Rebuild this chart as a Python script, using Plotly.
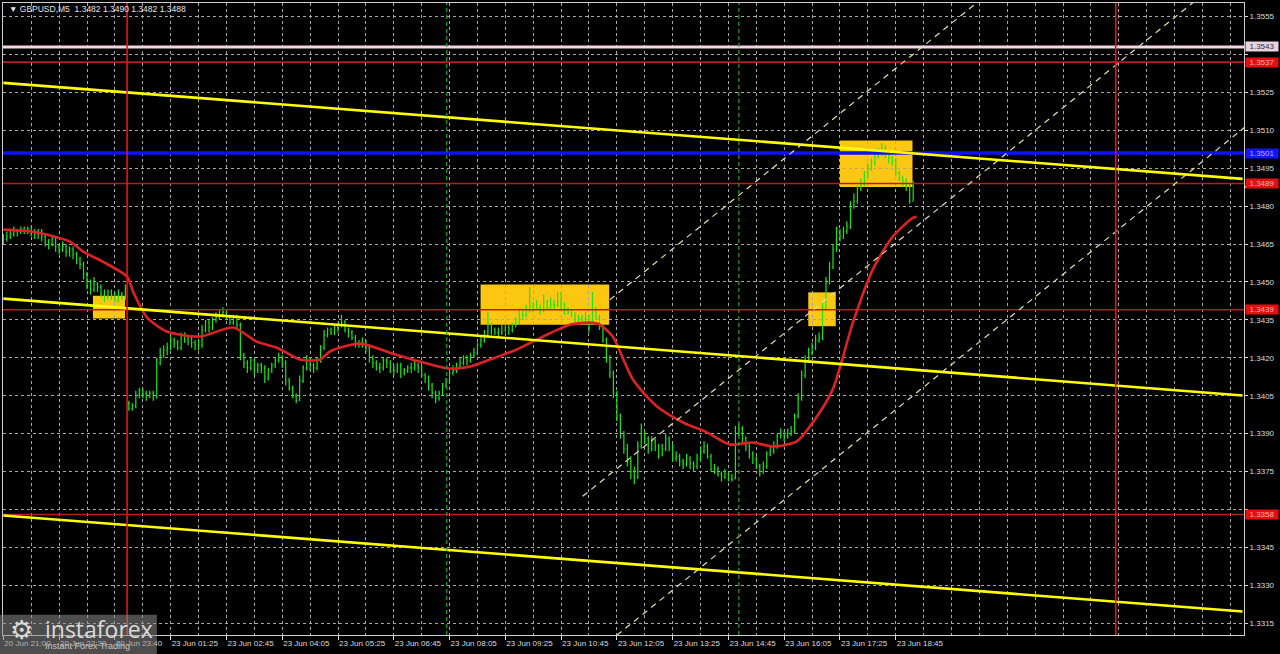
import plotly.graph_objects as go

# ---------------- data (prices stored as pips above BASE) ----------------
BASE = 1.3300
PIP = 0.0001

open_pips = [
    166,167,168,169,170,170,171,170,171,170,
    169,170,168,166,165,167,164,163,164,162,
    163,161,159,157,153,150,147,149,148,145,
    144,146,145,143,145,144,
    102,100,101,105,107,106,105,106,104,118,
    121,123,124,127,126,124,129,127,128,126,
    125,125,131,134,132,135,136,137,138,136,
    134,136,133,121,118,116,119,115,117,116,
    112,115,117,119,120,118,111,108,105,103,
    111,116,119,117,116,119,124,129,131,130,
    132,133,134,131,130,128,126,125,126,124,
    120,118,116,116,119,118,116,115,117,114,
    115,116,116,117,116,113,112,109,106,104,
    106,109,111,114,115,117,118,120,119,121,
    122,125,127,129,133,131,130,130,131,132,
    131,133,134,137,137,139,140,141,140,139,
    142,140,141,141,142,141,139,138,137,136,
    136,135,136,134,139,136,132,127,120,114,
    106,97,90,84,79,75,73,85,90,88,
    84,87,85,82,84,88,85,80,81,79,
    78,80,78,77,80,83,85,81,76,76,
    74,73,74,72,72,90,92,88,85,82,
    80,77,75,77,82,83,85,89,90,89,
    90,91,97,104,113,119,122,124,127,128,
    140,150,156,163,170,168,170,172,180,182,
    187,189,192,195,197,200,201,202,201,199,
    198,193,191,190,188,182,
]
high_pips = [
    169,170,171,172,171,172,172,172,172,171,
    171,171,169,167,168,168,165,166,165,164,
    164,162,160,158,154,151,152,150,149,147,
    147,147,146,147,146,149,
    103,102,107,108,108,107,107,107,120,124,
    125,126,129,128,127,130,130,129,129,127,
    127,133,135,135,136,138,139,140,139,137,
    137,137,134,122,119,120,120,118,118,117,
    116,118,120,122,121,119,112,109,106,113,
    117,121,120,118,120,125,131,132,132,133,
    134,137,135,132,131,129,127,128,127,125,
    121,119,118,120,120,119,117,118,118,116,
    117,118,119,118,117,114,113,110,107,107,
    110,112,115,117,118,120,121,121,122,124,
    126,129,131,138,134,132,132,133,133,133,
    134,136,139,139,141,148,142,143,141,145,
    143,144,143,146,146,142,140,139,138,137,
    137,138,137,146,140,137,133,128,121,115,
    107,98,91,86,81,77,87,94,91,89,
    89,88,86,86,90,89,86,83,82,80,
    82,81,79,82,85,87,86,82,78,77,
    75,76,75,74,93,94,93,89,86,83,
    81,78,79,83,85,87,90,92,91,92,
    93,98,106,115,121,124,126,129,130,142,
    152,158,165,172,171,172,174,182,185,188,
    191,194,197,199,202,203,205,204,202,200,
    199,194,192,191,189,190,
]
low_pips = [
    165,166,167,168,168,169,169,169,168,167,
    167,166,164,163,164,162,161,162,160,160,
    159,157,155,151,147,145,146,146,144,142,
    143,143,142,142,143,143,
    99,99,100,104,104,103,104,103,104,117,
    120,121,123,124,123,123,126,125,124,123,
    123,124,130,130,131,134,135,136,135,133,
    133,131,119,116,114,115,113,114,114,110,
    111,114,116,118,116,109,107,104,102,103,
    110,115,115,114,115,118,123,128,129,129,
    130,132,130,128,127,124,124,124,122,118,
    116,115,114,115,116,114,113,114,112,113,
    114,114,115,114,112,110,107,104,102,103,
    105,108,110,113,114,116,117,117,118,120,
    121,124,126,128,129,129,128,129,130,129,
    130,132,133,135,136,138,138,139,137,138,
    139,139,139,140,139,137,137,136,134,134,
    133,134,130,133,135,131,126,118,112,104,
    95,88,82,77,72,70,72,84,86,82,
    83,83,80,81,83,83,79,79,77,76,
    77,76,75,76,79,82,80,75,74,73,
    71,72,71,71,72,89,86,83,80,78,
    76,73,74,76,81,82,84,88,87,88,
    89,90,96,103,112,118,121,123,126,127,
    139,149,155,162,166,167,169,171,179,181,
    186,188,191,194,196,199,200,199,197,196,
    192,190,188,186,181,182,
]
close_pips = [
    167,168,169,170,170,171,170,171,170,169,
    170,168,166,165,167,164,163,164,162,163,
    161,159,157,153,150,147,149,148,145,144,
    146,145,143,145,144,147,
    100,101,105,107,106,105,106,104,118,121,
    123,124,127,126,124,129,127,128,126,125,
    125,131,134,132,135,136,137,138,136,134,
    136,133,121,118,116,119,115,117,116,112,
    115,117,119,120,118,111,108,105,103,111,
    116,119,117,116,119,124,129,131,130,132,
    133,134,131,130,128,126,125,126,124,120,
    118,116,116,119,118,116,115,117,114,115,
    116,116,117,116,113,112,109,106,104,106,
    109,111,114,115,117,118,120,119,121,122,
    125,127,129,133,131,130,130,131,132,131,
    133,134,137,137,139,140,141,140,139,142,
    140,141,141,142,141,139,138,137,136,136,
    135,136,134,139,136,132,127,120,114,106,
    97,90,84,79,75,73,85,90,88,84,
    87,85,82,84,88,85,80,81,79,78,
    80,78,77,80,83,85,81,76,76,74,
    73,74,72,72,90,92,88,85,82,80,
    77,75,77,82,83,85,89,90,89,90,
    91,97,104,113,119,122,124,127,128,140,
    150,156,163,170,168,170,172,180,182,187,
    189,192,195,197,200,201,202,201,199,198,
    193,191,190,188,182,188,
]

# moving average read at points along the red curve (bar index, pips)
ma_bar = [0, 8.5, 19.1, 22.9, 28.3, 35.5, 37.2, 41.2, 46.9, 56.4,
          65.9, 72.7, 78.5, 85.1, 90.8, 93.7, 102.3, 110.9, 119.5, 128.1,
          133.8, 139.6, 147.3, 154.8, 162.5, 168.3, 171.1, 174.8, 180.6, 187.5,
          195, 201.8, 208.4, 215, 220.7, 227.6, 232.2, 237.9, 243.7, 249.4,
          255.1, 260.9, 262]
ma_pips = [170.7, 169.9, 166, 162, 158.2, 152.1, 146.2, 136, 130.4, 128.4,
           132, 126.4, 124, 119.3, 119.3, 122.5, 125.6, 122, 118.5, 115.7,
           116.5, 119.3, 123.3, 128.4, 133.1, 133.9, 133.1, 128.4, 111.4, 100.7,
           94.4, 90.5, 85.7, 86.5, 84.9, 86.9, 94.4, 107.4, 133.9, 154.9,
           167.9, 175.4, 175.8]

tick_bars = [0, 16, 32, 48, 64, 80, 96, 112, 128, 144, 160, 176, 192, 208, 224, 240, 256]
tick_labels = ["20 Jun 21:00", "20 Jun 22:20", "20 Jun 23:40", "23 Jun 01:25", "23 Jun 02:45",
               "23 Jun 04:05", "23 Jun 05:25", "23 Jun 06:45", "23 Jun 08:05", "23 Jun 09:25",
               "23 Jun 10:45", "23 Jun 12:05", "23 Jun 13:25", "23 Jun 14:45", "23 Jun 16:05",
               "23 Jun 17:25", "23 Jun 18:45"]

price_ticks = [1.3315, 1.3330, 1.3345, 1.3360, 1.3375, 1.3390, 1.3405, 1.3420, 1.3435,
               1.3450, 1.3465, 1.3480, 1.3495, 1.3510, 1.3525, 1.3540, 1.3555]
hidden_price_ticks = [1.3360, 1.3540]   # covered by level labels in the reference

red_levels = [1.3537, 1.3489, 1.3439, 1.3358]
blue_level = 1.3501
pink_level = 1.3543
bid_price = 1.3488

# solid yellow channel lines: (bar_start, bar_end), (price_start, price_end)
trend_bars = [(0, 355.5), (0, 355.5), (0, 355.5)]
trend_prices = [(1.35288, 1.34908), (1.34434, 1.34051), (1.33576, 1.33196)]

# dashed ascending channel lines
dash_bars = [(174, 290), (166.2, 356), (176, 356)]
dash_prices = [(1.3443, 1.35725), (1.33652, 1.3577), (1.33102, 1.35111)]

# highlighted signal zones
box_bars = [(25.7, 34.9), (136.9, 173.8), (230.9, 238.8), (240.0, 260.8)]
box_prices = [(1.34355, 1.34446), (1.34331, 1.34490), (1.34325, 1.34459), (1.34876, 1.35060)]

red_vlines = [35.5, 319.1]
green_vlines = [127.2, 211.0]

x_range = [-0.1, 355.9]
y_range = [1.33103, 1.35604]

title_text = "▼ GBPUSD,M5  1.3482 1.3490 1.3482 1.3488"

# ---------------- figure ----------------
def px(v):
    return [BASE + p * PIP for p in v]

bars = list(range(len(close_pips)))
GREEN = "#19e619"
FONT = "Liberation Sans"
TXT = "#dcdcdc"

fig = go.Figure()

for lv in red_levels:
    fig.add_trace(go.Scatter(x=x_range, y=[lv, lv], mode="lines",
                             line=dict(color="#b81c1c", width=1.6), hoverinfo="skip"))
fig.add_trace(go.Scatter(x=x_range, y=[pink_level, pink_level], mode="lines",
                         line=dict(color="#f2d4e4", width=3), hoverinfo="skip"))

fig.add_trace(go.Ohlc(x=bars, open=px(open_pips), high=px(high_pips), low=px(low_pips),
                      close=px(close_pips), tickwidth=0.25,
                      increasing=dict(line=dict(color=GREEN, width=1.2)),
                      decreasing=dict(line=dict(color=GREEN, width=1.2)),
                      hoverinfo="skip"))

fig.add_trace(go.Scatter(x=x_range, y=[blue_level, blue_level], mode="lines",
                         line=dict(color="#1010ff", width=3.5), hoverinfo="skip"))

fig.add_trace(go.Scatter(x=ma_bar, y=px(ma_pips), mode="lines",
                         line=dict(color="#dc2222", width=2.6, shape="spline", smoothing=0.7),
                         hoverinfo="skip"))

for (b0, b1), (p0, p1) in zip(trend_bars, trend_prices):
    fig.add_trace(go.Scatter(x=[b0, b1], y=[p0, p1], mode="lines",
                             line=dict(color="#ffff00", width=2.6), hoverinfo="skip"))
for (b0, b1), (p0, p1) in zip(dash_bars, dash_prices):
    fig.add_trace(go.Scatter(x=[b0, b1], y=[p0, p1], mode="lines",
                             line=dict(color="#e4e0a8", width=1.2, dash="6px,5px"), hoverinfo="skip"))

for vb in red_vlines:
    fig.add_trace(go.Scatter(x=[vb, vb], y=y_range, mode="lines",
                             line=dict(color="#e81414", width=1.6), hoverinfo="skip"))
for vb in green_vlines:
    fig.add_trace(go.Scatter(x=[vb, vb], y=y_range, mode="lines",
                             line=dict(color="#2aa02a", width=1.2, dash="4px,3px"), hoverinfo="skip"))

shapes = []
for (b0, b1), (p0, p1) in zip(box_bars, box_prices):
    shapes.append(dict(type="rect", xref="x", yref="y", x0=b0, x1=b1, y0=p0, y1=p1,
                       fillcolor="#fbc712", line=dict(width=0), layer="below"))

# white bid-price strip just under the 1.3489 label
shapes.append(dict(type="line", xref="paper", yref="y", x0=1.0, x1=1.0275,
                   y0=bid_price - 0.00003, y1=bid_price - 0.00003,
                   line=dict(color="#f4f4f4", width=2), layer="above"))

# watermark
shapes.append(dict(type="rect", xref="paper", yref="paper", x0=-0.003, x1=0.124,
                   y0=-0.032, y1=0.032, fillcolor="rgba(140,140,140,0.55)",
                   line=dict(width=0), layer="above"))

annotations = []
annotations.append(dict(text=title_text, xref="paper", yref="paper", x=0.003, y=1,
                        yshift=-6, xanchor="left", yanchor="middle", showarrow=False,
                        font=dict(family=FONT, size=8.5, color="#e6e6e6")))

def price_label(y, text, bg, fg):
    return dict(text=text, xref="paper", yref="y", x=1, y=y, xanchor="left",
                yanchor="middle", xshift=1, showarrow=False, bgcolor=bg,
                width=32, height=9, borderpad=0, align="center",
                font=dict(family=FONT, size=8, color=fg))

annotations.append(price_label(pink_level, f"{pink_level:.4f}", "#e6d2e2", "#303030"))
for lv in red_levels:
    annotations.append(price_label(lv, f"{lv:.4f}", "#e41010", "#f4b0b0"))
annotations.append(price_label(blue_level, f"{blue_level:.4f}", "#1414ff", "#b0b0ff"))

annotations.append(dict(text="⚙", xref="paper", yref="paper", x=0.004, y=0.008,
                        xanchor="left", yanchor="middle", showarrow=False,
                        font=dict(family="DejaVu Sans", size=26, color="#dadada")))
annotations.append(dict(text="instaforex", xref="paper", yref="paper", x=0.032, y=0.010,
                        xanchor="left", yanchor="middle", showarrow=False,
                        font=dict(family="Open Sans", size=23, color="#dadada")))
annotations.append(dict(text="Instant Forex Trading", xref="paper", yref="paper", x=0.032, y=-0.017,
                        xanchor="left", yanchor="middle", showarrow=False,
                        font=dict(family=FONT, size=9, color="#c4c4c4")))

price_text = ["" if any(abs(t - h) < 1e-9 for h in hidden_price_ticks) else f"{t:.4f}"
              for t in price_ticks]

grid_col = "#a8a8a8"
fig.update_layout(
    width=1280, height=654,
    margin=dict(l=3, r=36, t=3, b=19, autoexpand=False),
    paper_bgcolor="#000000", plot_bgcolor="#000000",
    showlegend=False, shapes=shapes, annotations=annotations,
    xaxis=dict(range=x_range, tickmode="array", tickvals=tick_bars, ticktext=tick_labels,
               ticklabelposition="outside right", tickangle=0, automargin=False,
               ticks="outside", ticklen=4, tickcolor="#dcdcdc",
               tickfont=dict(family=FONT, size=8, color=TXT),
               showgrid=True, gridcolor=grid_col, griddash="3px,3px", gridwidth=1,
               minor=dict(dtick=8, tick0=0, showgrid=True, gridcolor=grid_col,
                          griddash="3px,3px", ticks=""),
               showline=True, linecolor="#cfcfcf", linewidth=1, mirror=True,
               zeroline=False, rangeslider=dict(visible=False), fixedrange=True),
    yaxis=dict(range=y_range, side="right", tickmode="array", tickvals=price_ticks,
               ticktext=price_text, automargin=False,
               ticks="outside", ticklen=3, tickcolor="#dcdcdc",
               tickfont=dict(family=FONT, size=8, color=TXT),
               showgrid=True, gridcolor=grid_col, griddash="3px,3px", gridwidth=1,
               showline=True, linecolor="#cfcfcf", linewidth=1, mirror=True,
               zeroline=False, fixedrange=True),
)

fig.write_html("out.html", config={"displayModeBar": False},
               post_script="document.body.style.margin='0';document.body.style.background='#000';")
